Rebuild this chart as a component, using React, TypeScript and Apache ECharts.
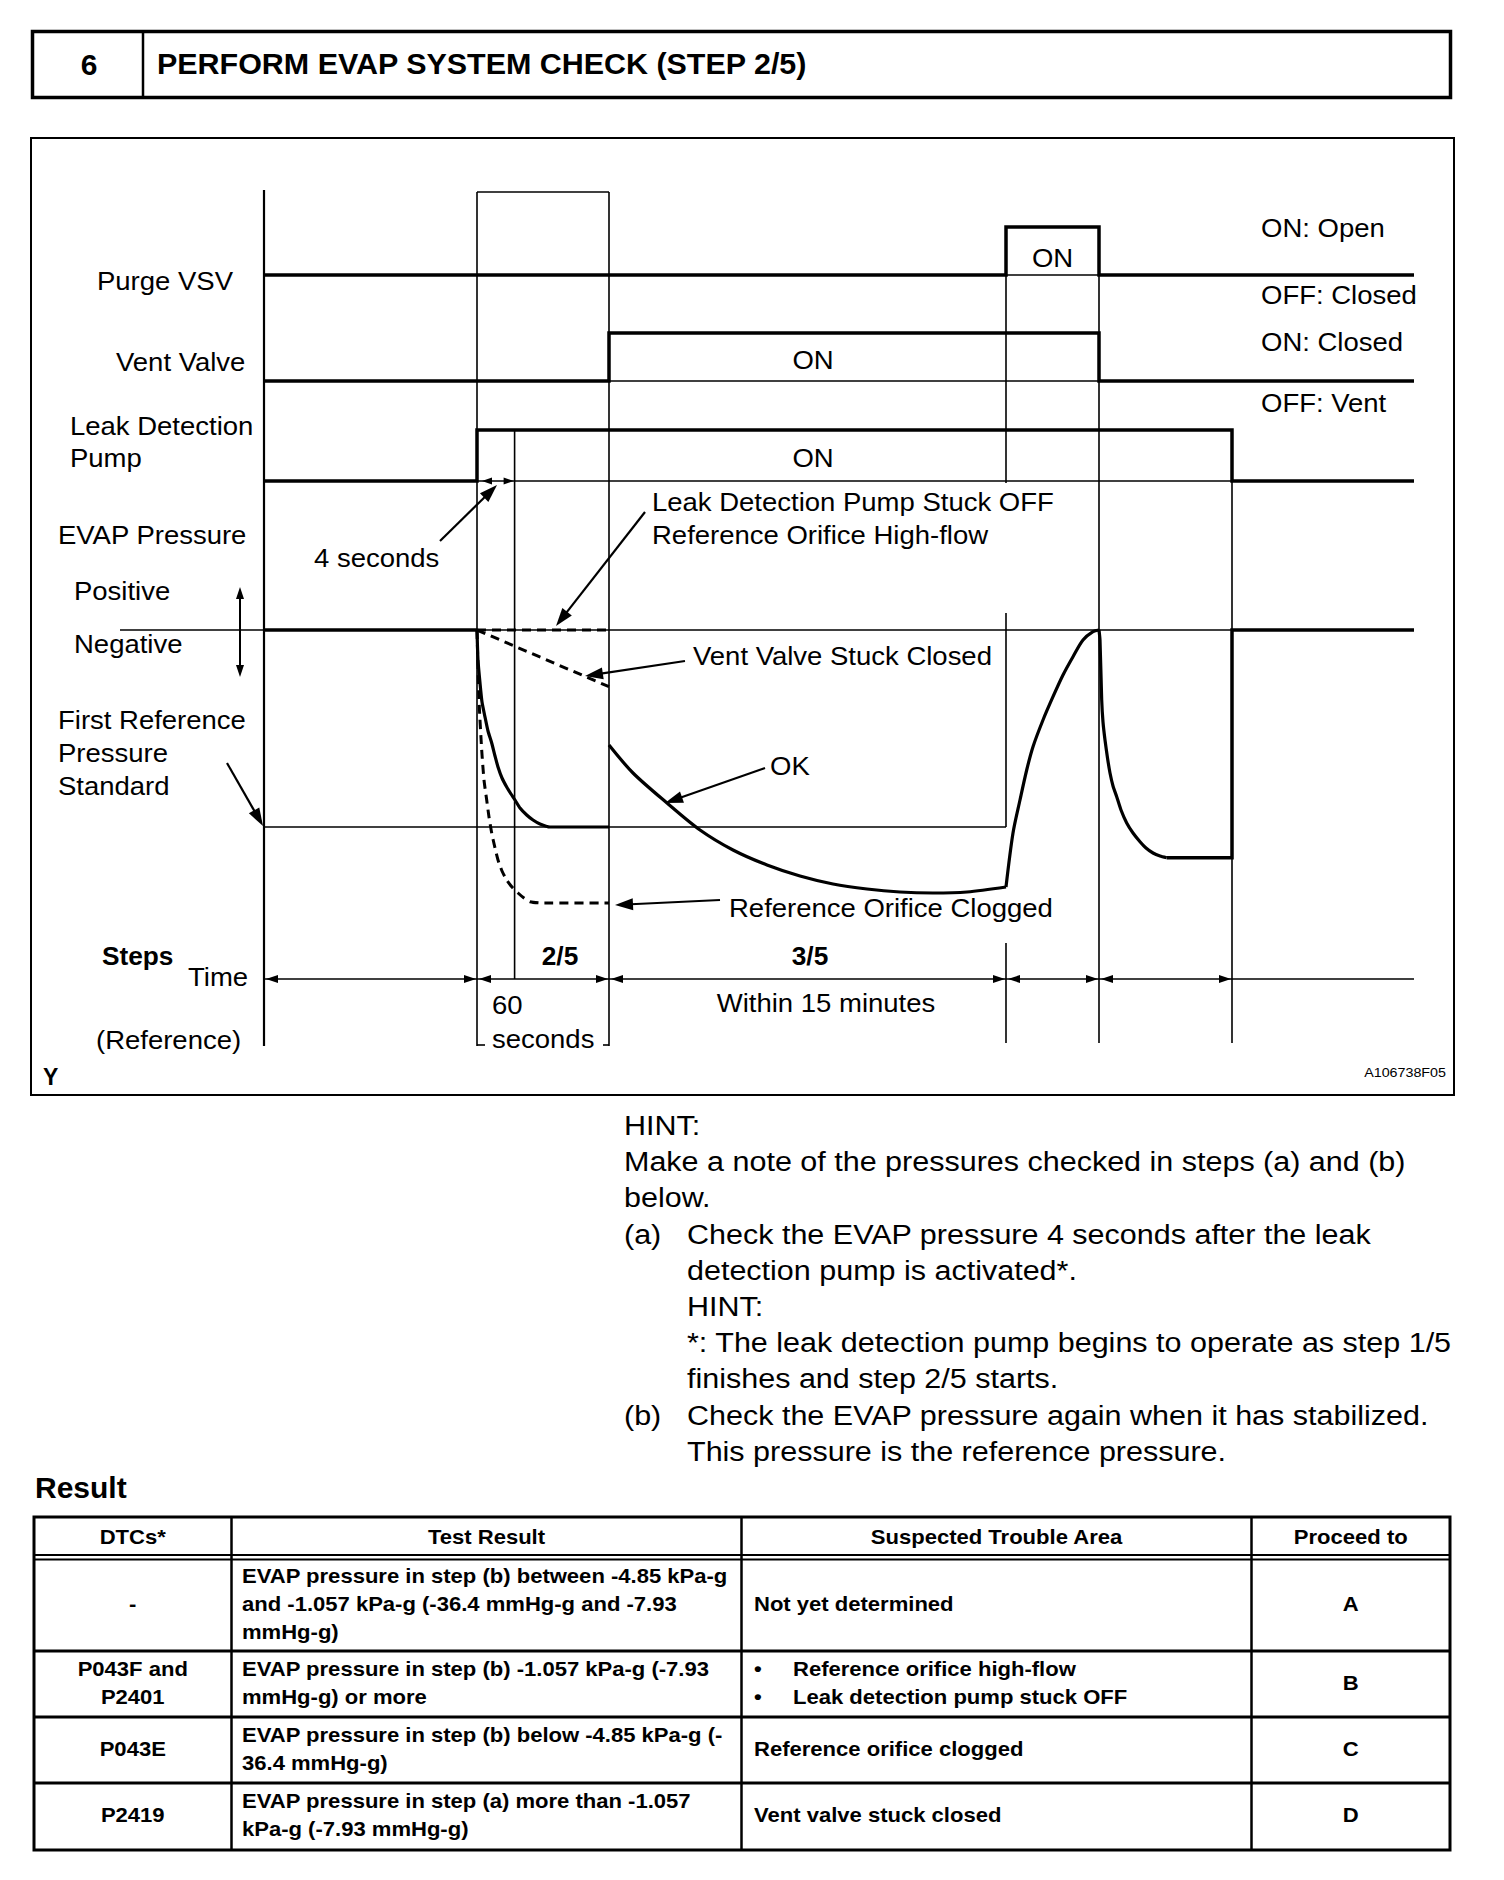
import React, { useEffect, useRef } from "react";
import * as echarts from "echarts";

const FONT = '"Liberation Sans", Arial, Helvetica, sans-serif';

// ---- Timing signals (time units: arbitrary, 0 = start of diagram) ----
const purgeT = [0, 74.2, 74.2, 83.5, 83.5, 115];
const purgeV = [0, 0, 1, 1, 0, 0];
const purgeBaseT = [74.2, 83.5];
const ventT = [0, 34.5, 34.5, 83.5, 83.5, 115];
const ventV = [0, 0, 1, 1, 0, 0];
const ventBaseT = [34.5, 83.5];
const pumpT = [0, 21.3, 21.3, 96.8, 96.8, 115];
const pumpV = [0, 0, 1, 1, 0, 0];
const pumpBaseT = [21.3, 96.8];

// event times (guide lines)
const tAxis = 0;
const tPumpOn = 21.3;
const t4s = 25.06;
const tStep3 = 34.5;
const tPurgeOn = 74.2;
const tPurgeOff = 83.5;
const tPumpOff = 96.8;
const tEnd = 115;

// ---- EVAP pressure (arbitrary units, 0 = atmospheric, negative down) ----
const zeroLineT = [-14.4, 115];
const zeroLineP = [0, 0];
const firstRefT = [0, 74.2];
const firstRefP = [-19.7, -19.7];
const okIdleT = [0, 21.3];
const okIdleP = [0, 0];
const okDropT = [21.3, 21.4, 21.6, 21.8, 22.1, 22.4, 22.77, 23.1, 23.4, 23.8, 24.27, 24.7, 25.1, 25.6, 26.27, 26.9, 27.6, 28.6, 34.5];
const okDropP = [0, -3.0, -5.3, -7.2, -8.7, -10.1, -11.3, -12.6, -13.7, -14.8, -15.7, -16.4, -17.0, -17.8, -18.5, -19.0, -19.4, -19.7, -19.7];
const okStep3T = [34.5, 36.9, 40.3, 43.6, 46.9, 50.3, 53.6, 56.9, 60.3, 63.6, 66.9, 70.3, 74.2];
const okStep3P = [-11.5, -14.3, -17.3, -20.0, -22.0, -23.5, -24.6, -25.4, -25.9, -26.2, -26.3, -26.2, -25.7];
const okPurgeT = [74.2, 74.9, 75.6, 76.27, 76.9, 77.9, 78.9, 79.9, 80.9, 81.9, 82.9, 83.5];
const okPurgeP = [-25.7, -20.3, -17.0, -14.0, -11.67, -9.0, -6.67, -4.5, -2.67, -1.0, -0.17, 0];
const okVentT = [83.5, 83.6, 83.77, 83.9, 84.1, 84.35, 84.6, 84.9, 85.27, 85.7, 86.27, 86.9, 87.6, 88.2, 88.9, 89.6, 90.27];
const okVentP = [0, -1.0, -7.0, -9.2, -11.0, -12.8, -14.3, -15.6, -16.67, -18.0, -19.3, -20.3, -21.17, -21.8, -22.3, -22.6, -22.77];
const okHoldT = [90.27, 96.8, 96.8, 115];
const okHoldP = [-22.77, -22.77, 0, 0];
const stuckOffT = [21.3, 34.5];
const stuckOffP = [0, 0];
const ventStuckT = [21.3, 34.5];
const ventStuckP = [0, -5.67];
const cloggedT = [21.3, 21.5, 21.77, 22.0, 22.27, 22.5, 22.77, 23.1, 23.4, 23.8, 24.27, 24.8, 25.4, 26.0, 26.6, 27.77, 34.5];
const cloggedP = [0, -7.0, -12.0, -15.0, -17.0, -18.7, -20.3, -21.8, -23.0, -24.1, -25.0, -25.7, -26.3, -26.8, -27.17, -27.3, -27.3];

// ---- Texts ----
const titleNo = "6";
const titleText = "PERFORM EVAP SYSTEM CHECK (STEP 2/5)";
const hintLines = [
  "HINT:",
  "Make a note of the pressures checked in steps (a) and (b)",
  "below.",
];
const hintA = ["Check the EVAP pressure 4 seconds after the leak", "detection pump is activated*.", "HINT:", "*: The leak detection pump begins to operate as step 1/5", "finishes and step 2/5 starts."];
const hintB = ["Check the EVAP pressure again when it has stabilized.", "This pressure is the reference pressure."];

const tableHeaders = ["DTCs*", "Test Result", "Suspected Trouble Area", "Proceed to"];
const tableDtc = [["-"], ["P043F and", "P2401"], ["P043E"], ["P2419"]];
const tableTest = [
  ["EVAP pressure in step (b) between -4.85 kPa-g", "and -1.057 kPa-g (-36.4 mmHg-g and -7.93", "mmHg-g)"],
  ["EVAP pressure in step (b) -1.057 kPa-g (-7.93", "mmHg-g) or more"],
  ["EVAP pressure in step (b) below -4.85 kPa-g (-", "36.4 mmHg-g)"],
  ["EVAP pressure in step (a) more than -1.057", "kPa-g (-7.93 mmHg-g)"],
];
const tableArea = [["Not yet determined"], ["Reference orifice high-flow", "Leak detection pump stuck OFF"], ["Reference orifice clogged"], ["Vent valve stuck closed"]];
const tableAreaBullet = [false, true, false, false];
const tableProceed = ["A", "B", "C", "D"];

const zip = (a: number[], b: number[]) => a.map((v, i) => [v, b[i]]);

function lineSeries(g: number, data: number[][], width: number, extra: any = {}) {
  return {
    type: "line",
    xAxisIndex: g,
    yAxisIndex: g,
    data,
    symbol: "none",
    showSymbol: false,
    clip: false,
    silent: true,
    lineStyle: { color: "#000", width, type: extra.dash || "solid", cap: "butt", join: "miter" },
    smooth: extra.smooth || false,
    z: extra.z || 3,
  };
}

function txt(text: string, x: number, y: number, size: number, o: any = {}) {
  const align = o.align || "left";
  return {
    type: "text",
    x,
    y,
    scaleX: o.sx || 1,
    z: 100,
    silent: true,
    style: {
      text,
      fill: "#000",
      fontFamily: FONT,
      fontSize: size,
      fontWeight: o.bold ? "bold" : "normal",
      align,
      textAlign: align,
      verticalAlign: "middle",
      textVerticalAlign: "middle",
    },
  };
}
function ln(x1: number, y1: number, x2: number, y2: number, w: number) {
  return { type: "line", z: 100, silent: true, shape: { x1, y1, x2, y2 }, style: { stroke: "#000", lineWidth: w, lineCap: "butt" } };
}
function rect(x: number, y: number, w: number, h: number, lw: number) {
  return { type: "rect", z: 100, silent: true, shape: { x, y, width: w, height: h }, style: { fill: "none", stroke: "#000", lineWidth: lw } };
}
function poly(points: number[][]) {
  return { type: "polygon", z: 101, silent: true, shape: { points }, style: { fill: "#000", stroke: "none" } };
}
function arrow(x1: number, y1: number, x2: number, y2: number, w = 2.2, len = 18, half = 6) {
  const dx = x2 - x1, dy = y2 - y1;
  const d = Math.sqrt(dx * dx + dy * dy);
  const ux = dx / d, uy = dy / d;
  const bx = x2 - ux * len, by = y2 - uy * len;
  const nx = -uy, ny = ux;
  return [
    ln(x1, y1, bx + ux * 2, by + uy * 2, w),
    poly([[x2, y2], [bx + nx * half, by + ny * half], [bx - nx * half, by - ny * half]]),
  ];
}
function hHead(tipX: number, y: number, dir: number) {
  return poly([[tipX, y], [tipX - dir * 12, y - 4], [tipX - dir * 12, y + 4]]);
}
function vHead(x: number, tipY: number, dir: number) {
  return poly([[x, tipY], [x - 4, tipY - dir * 12], [x + 4, tipY - dir * 12]]);
}

export default function App() {
  const ref = useRef<HTMLDivElement>(null);
  useEffect(() => {
    document.body.style.margin = "0";
    const chart = echarts.init(ref.current as HTMLDivElement, null, { renderer: "svg" });
    const gridDefs = [
      { top: 227, height: 48, min: 0, max: 1 },
      { top: 333, height: 48, min: 0, max: 1 },
      { top: 430, height: 51, min: 0, max: 1 },
      { top: 530, height: 400, min: -30, max: 10 },
    ];
    const THICK = 3.5;
    const THIN = 1.6;
    chart.setOption({
      animation: false,
      backgroundColor: "#fff",
      grid: gridDefs.map((g) => ({ left: 64, width: 1350, top: g.top, height: g.height, containLabel: false, outerBoundsMode: "none", show: false })),
      xAxis: gridDefs.map((_, i) => ({ type: "value", gridIndex: i, min: -20, max: 115, show: false })),
      yAxis: gridDefs.map((g, i) => ({ type: "value", gridIndex: i, min: g.min, max: g.max, show: false })),
      series: [
        lineSeries(0, zip(purgeT, purgeV), THICK),
        lineSeries(0, zip(purgeBaseT, [0, 0]), THIN),
        lineSeries(1, zip(ventT, ventV), THICK),
        lineSeries(1, zip(ventBaseT, [0, 0]), THIN),
        lineSeries(2, zip(pumpT, pumpV), THICK),
        lineSeries(2, zip(pumpBaseT, [0, 0]), THIN),
        lineSeries(3, zip(zeroLineT, zeroLineP), THIN),
        lineSeries(3, zip(firstRefT, firstRefP), THIN),
        lineSeries(3, zip(okIdleT, okIdleP), THICK),
        lineSeries(3, zip(okDropT, okDropP), 3.2, { smooth: 0.2 }),
        lineSeries(3, zip(okStep3T, okStep3P), 3.2, { smooth: 0.3 }),
        lineSeries(3, zip(okPurgeT, okPurgeP), 3.2, { smooth: 0.3 }),
        lineSeries(3, zip(okVentT, okVentP), 3.2, { smooth: 0.2 }),
        lineSeries(3, zip(okHoldT, okHoldP), THICK),
        lineSeries(3, zip(stuckOffT, stuckOffP), 3, { dash: [9, 6] }),
        lineSeries(3, zip(ventStuckT, ventStuckP), 3, { dash: [9, 6] }),
        lineSeries(3, zip(cloggedT, cloggedP), 3, { dash: [9, 6], smooth: 0.2 }),
      ],
    });

    const px = (t: number) => (chart.convertToPixel({ gridIndex: 0 } as any, [t, 0]) as number[])[0];
    const py = (g: number, v: number) => (chart.convertToPixel({ gridIndex: g } as any, [0, v]) as number[])[1];

    const purgeOn = py(0, 1);
    const pumpOn = py(2, 1), pumpOff = py(2, 0);
    const firstRefY = py(3, firstRefP[0]);
    const timeY = 979;
    const el: any[] = [];

    // header box
    el.push(rect(32.5, 31.5, 1418, 66, 3.5));
    el.push(ln(143, 31, 143, 98, 2.5));
    el.push(txt(titleNo, 89, 64, 30, { bold: true, align: "center" }));
    el.push(txt(titleText, 157, 64, 29, { bold: true, sx: 1.05 }));

    // diagram frame
    el.push(rect(31, 138, 1423, 957, 2));

    // guide lines
    el.push(ln(px(tAxis), 190, px(tAxis), 1046, 2.2));
    el.push(ln(px(tPumpOn), 192, px(tPumpOn), 1046, THIN));
    el.push(ln(px(tStep3), 192, px(tStep3), 1046, THIN));
    el.push(ln(px(tPumpOn), 192, px(tStep3), 192, THIN));
    el.push(ln(px(t4s), pumpOn, px(t4s), timeY, THIN));
    el.push(ln(px(tPurgeOn), purgeOn, px(tPurgeOn), pumpOff + 2, THIN));
    el.push(ln(px(tPurgeOn), 613, px(tPurgeOn), firstRefY, THIN));
    el.push(ln(px(tPurgeOn), 943, px(tPurgeOn), 1043, THIN));
    el.push(ln(px(tPurgeOff), purgeOn, px(tPurgeOff), 1043, THIN));
    el.push(ln(px(tPumpOff), pumpOn, px(tPumpOff), 1043, THIN));
    // bracket feet for "60 seconds"
    el.push(ln(px(tPumpOn), 1045, px(tPumpOn) + 8, 1045, THIN));
    el.push(ln(px(tStep3) - 6, 1045, px(tStep3), 1045, THIN));

    // time line and arrowheads
    el.push(ln(px(tAxis), timeY, px(tEnd), timeY, THIN));
    el.push(hHead(px(tAxis) + 2, timeY, -1));
    [tPumpOn, tStep3, tPurgeOn, tPurgeOff].forEach((t) => {
      el.push(hHead(px(t) - 1, timeY, 1));
      el.push(hHead(px(t) + 2, timeY, -1));
    });
    el.push(hHead(px(tPumpOff) - 1, timeY, 1));

    // 4-second small arrows on pump baseline
    el.push(poly([[px(tPumpOn) + 5, pumpOff], [px(tPumpOn) + 15, pumpOff - 3.5], [px(tPumpOn) + 15, pumpOff + 3.5]]));
    el.push(poly([[px(t4s) - 1, pumpOff], [px(t4s) - 11, pumpOff - 3.5], [px(t4s) - 11, pumpOff + 3.5]]));

    // positive/negative arrow
    el.push(ln(240, 596, 240, 668, 2));
    el.push(vHead(240, 587, -1));
    el.push(vHead(240, 677, 1));

    // annotation arrows
    el.push(...arrow(440, 541, 497, 485));
    el.push(...arrow(645, 512, 556, 626));
    el.push(...arrow(685, 661, 585, 676));
    el.push(...arrow(765, 768, 665, 803));
    el.push(...arrow(720, 900, 615, 905));
    el.push(...arrow(227, 763, 263, 826));

    // diagram labels
    const S = 25;
    const D = { sx: 1.1 };
    el.push(txt("Purge VSV", 97, 281, S, D));
    el.push(txt("Vent Valve", 116, 362, S, D));
    el.push(txt("Leak Detection", 70, 426, S, D));
    el.push(txt("Pump", 70, 458, S, D));
    el.push(txt("EVAP Pressure", 58, 535, S, D));
    el.push(txt("Positive", 74, 591, S, D));
    el.push(txt("Negative", 74, 644, S, D));
    el.push(txt("First Reference", 58, 720, S, D));
    el.push(txt("Pressure", 58, 753, S, D));
    el.push(txt("Standard", 58, 786, S, D));
    el.push(txt("Steps", 102, 956, S, { bold: true, sx: 1.05 }));
    el.push(txt("Time", 188, 977, S, D));
    el.push(txt("(Reference)", 96, 1040, S, D));
    el.push(txt("Y", 43, 1077, 23, { bold: true }));
    el.push(txt("A106738F05", 1446, 1073, 13, { align: "right", sx: 1.1 }));
    el.push(txt("4 seconds", 314, 558, S, D));
    el.push(txt("Leak Detection Pump Stuck OFF", 652, 502, S, D));
    el.push(txt("Reference Orifice High-flow", 652, 535, S, D));
    el.push(txt("Vent Valve Stuck Closed", 693, 656, S, D));
    el.push(txt("OK", 770, 766, S, D));
    el.push(txt("Reference Orifice Clogged", 729, 908, S, D));
    el.push(txt("60", 492, 1005, S, D));
    el.push(txt("seconds", 492, 1039, S, D));
    el.push(txt("ON: Open", 1261, 228, S, D));
    el.push(txt("OFF: Closed", 1261, 295, S, D));
    el.push(txt("ON: Closed", 1261, 342, S, D));
    el.push(txt("OFF: Vent", 1261, 403, S, D));
    el.push(txt("ON", (px(tPurgeOn) + px(tPurgeOff)) / 2, 258, S, { align: "center", sx: 1.1 }));
    el.push(txt("ON", 813, 360, S, { align: "center", sx: 1.1 }));
    el.push(txt("ON", 813, 458, S, { align: "center", sx: 1.1 }));
    el.push(txt("2/5", 560, 956, S, { bold: true, align: "center", sx: 1.05 }));
    el.push(txt("3/5", 810, 956, S, { bold: true, align: "center", sx: 1.05 }));
    el.push(txt("Within 15 minutes", 826, 1003, S, { align: "center", sx: 1.1 }));

    // hint
    const H = 28;
    const HS = { sx: 1.09 };
    const hy = [1125, 1161, 1197, 1234, 1270, 1306, 1342, 1378, 1415, 1451];
    hintLines.forEach((s, i) => el.push(txt(s, 624, hy[i], H, HS)));
    el.push(txt("(a)", 624, hy[3], H, HS));
    hintA.forEach((s, i) => el.push(txt(s, 687, hy[3 + i], H, HS)));
    el.push(txt("(b)", 624, hy[8], H, HS));
    hintB.forEach((s, i) => el.push(txt(s, 687, hy[8 + i], H, HS)));

    // result table
    el.push(txt("Result", 35, 1487, 30, { bold: true }));
    const colX = [34, 231.5, 741.5, 1251.5, 1450];
    const rowY = [1517, 1559, 1651, 1717, 1783, 1850];
    el.push(rect(34, 1517, 1416, 333, 3));
    [1, 2, 3].forEach((i) => el.push(ln(colX[i], 1517, colX[i], 1850, 2.5)));
    el.push(ln(34, 1555, 1450, 1555, 2.2));
    el.push(ln(34, 1559.5, 1450, 1559.5, 2.2));
    [1651, 1717, 1783].forEach((y) => el.push(ln(34, y, 1450, y, 3)));
    const TS = 21;
    const TB = { bold: true, sx: 1.05 };
    tableHeaders.forEach((h, i) => el.push(txt(h, (colX[i] + colX[i + 1]) / 2, 1537, TS, { ...TB, align: "center" })));
    const LH = 28.3;
    for (let r = 0; r < 4; r++) {
      const cy = (rowY[r + 1] + rowY[r + 2]) / 2 - 1;
      const block = (lines: string[], x: number, align: string, bullet = false) => {
        const y0 = cy - ((lines.length - 1) * LH) / 2;
        lines.forEach((s, k) => {
          if (bullet) {
            el.push(txt("\u2022", 754, y0 + k * LH, TS, TB));
            el.push(txt(s, 793, y0 + k * LH, TS, TB));
          } else {
            el.push(txt(s, x, y0 + k * LH, TS, { ...TB, align }));
          }
        });
      };
      block(tableDtc[r], (colX[0] + colX[1]) / 2, "center");
      block(tableTest[r], 242, "left");
      block(tableArea[r], 754, "left", tableAreaBullet[r]);
      block([tableProceed[r]], (colX[3] + colX[4]) / 2, "center");
    }

    chart.setOption({ graphic: { elements: el } });
    return () => chart.dispose();
  }, []);
  return (
    <div
      ref={ref}
      style={{ position: "absolute", left: 0, top: 0, width: 1504, height: 1880, background: "#fff" }}
    />
  );
}
